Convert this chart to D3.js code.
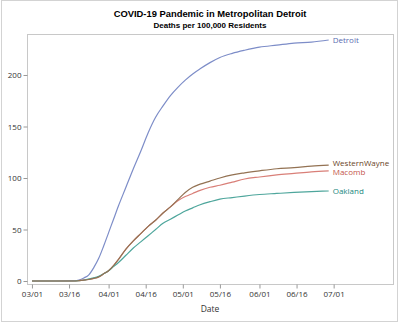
<!DOCTYPE html>
<html>
  <head>
    <title>COVID-19 Pandemic in Metropolitan Detroit</title>
    <script src="https://d3js.org/d3.v7.min.js"></script>
    <style>
      body { margin: 0; background: #fff; }
    </style>
  </head>
  <body>
    <div id="chart"></div>
    <script>
      // dates (2020) and deaths per 100,000 residents
      var dates = ['03/01','03/11','03/18','03/20','03/22','03/24','03/26','03/28','03/30',
        '04/01','04/03','04/05','04/08','04/11','04/14','04/17','04/20','04/23','04/26','04/29',
        '05/02','05/05','05/08','05/12','05/16','05/21','05/26','06/01','06/08','06/15','06/22','06/29'];
      var detroit = [0,0,0.3,1,3,6,13,22,34,47,60,73,91,109,126,144,159,170,180,188,195,201,206,212,217,221,224,227,229,231,232,234];
      var westernWayne = [0,0,0,0.3,0.8,1.5,2.5,4,7,10,15,21,31,39,46,53,59,66,72,79,86,91,94,97,100,103,105,107,109,110,111.5,112.5];
      var macomb = [0,0,0,0.3,0.8,1.5,2.5,4,7,10,15,21,31,39,46,53,59,66,72,78,82,85,88,91,93,96,99,101,103,104.5,106,107];
      var oakland = [0,0,0,0.3,1,2,3,4.5,7,10,14,18,25,32,38,44,50,56,60,64,68,71,74,77,79.5,81,82.5,84,85,86,86.8,87.4];

      var seriesNames = ['Detroit', 'Macomb', 'Oakland', 'WesternWayne'];
      var seriesValues = [detroit, macomb, oakland, westernWayne];
      var lineColors = ['#7d8dc8', '#d97f78', '#4ea69c', '#937253'];
      var labelColors = ['#5a6bb0', '#c4544a', '#21877d', '#6a4527'];
      var labelOffsets = [0, 1, 0, -1.5];

      var xTicks = ['03/01','03/16','04/01','04/16','05/01','05/16','06/01','06/16','07/01'];
      var yTicks = [0, 50, 100, 150, 200];

      var parse = function (s) { return d3.timeParse('%Y/%m/%d')('2020/' + s); };

      var W = 400, H = 323;
      var plotL = 27, plotR = 393, plotT = 34, plotB = 284;

      var svg = d3.select('#chart').append('svg')
        .attr('width', W)
        .attr('height', H);

      svg.append('rect')
        .attr('x', 1.5).attr('y', 0.5)
        .attr('width', 396).attr('height', 321)
        .attr('fill', 'none')
        .attr('stroke', '#d3d3d3');

      var x = d3.scaleTime()
        .domain([parse('02/28'), parse('07/25')])
        .range([plotL, plotR]);
      var y = d3.scaleLinear()
        .domain([-2.9, 239.8])
        .range([plotB, plotT]);

      // plot frame
      svg.append('rect')
        .attr('x', plotL + 0.5).attr('y', plotT + 0.5)
        .attr('width', plotR - plotL).attr('height', plotB - plotT)
        .attr('fill', 'none')
        .attr('stroke', '#c8c8c8');

      var xAxis = svg.append('g')
        .attr('transform', 'translate(0,' + (plotB + 0.5) + ')')
        .call(d3.axisBottom(x)
          .tickValues(xTicks.map(parse))
          .tickFormat(d3.timeFormat('%m/%d'))
          .tickSize(4).tickPadding(3));
      var yAxis = svg.append('g')
        .attr('transform', 'translate(' + (plotL + 0.5) + ',0)')
        .call(d3.axisLeft(y)
          .tickValues(yTicks)
          .tickSize(4).tickPadding(2));

      [xAxis, yAxis].forEach(function (g) {
        g.select('.domain').remove();
        g.selectAll('.tick line').attr('stroke', '#999');
        g.selectAll('.tick text')
          .attr('fill', '#333')
          .style('font-family', '"Open Sans", sans-serif')
          .style('font-size', '8px');
      });

      var line = d3.line()
        .x(function (d, i) { return x(parse(dates[i])); })
        .y(function (d) { return y(d); })
        .curve(d3.curveMonotoneX);

      seriesValues.forEach(function (vals, k) {
        svg.append('path')
          .attr('d', line(vals))
          .attr('fill', 'none')
          .attr('stroke', lineColors[k])
          .attr('stroke-width', 1.2);

        var last = vals.length - 1;
        svg.append('text')
          .attr('x', x(parse(dates[last])) + 4)
          .attr('y', y(vals[last]) + labelOffsets[k])
          .attr('dy', '0.35em')
          .attr('fill', labelColors[k])
          .style('font-family', '"Open Sans", sans-serif')
          .style('font-size', '8px')
          .text(seriesNames[k]);
      });

      var cx = (plotL + plotR) / 2;
      svg.append('text')
        .attr('x', cx).attr('y', 17)
        .attr('text-anchor', 'middle')
        .style('font-family', '"Liberation Sans", Arial, sans-serif')
        .style('font-weight', 'bold')
        .style('font-size', '9.4px')
        .text('COVID-19 Pandemic in Metropolitan Detroit');
      svg.append('text')
        .attr('x', cx).attr('y', 28)
        .attr('text-anchor', 'middle')
        .style('font-family', '"Liberation Sans", Arial, sans-serif')
        .style('font-weight', 'bold')
        .style('font-size', '8px')
        .text('Deaths per 100,000 Residents');

      svg.append('text')
        .attr('x', cx).attr('y', 312)
        .attr('text-anchor', 'middle')
        .attr('fill', '#333')
        .style('font-family', '"Open Sans", sans-serif')
        .style('font-size', '8.5px')
        .text('Date');
    </script>
  </body>
</html>
